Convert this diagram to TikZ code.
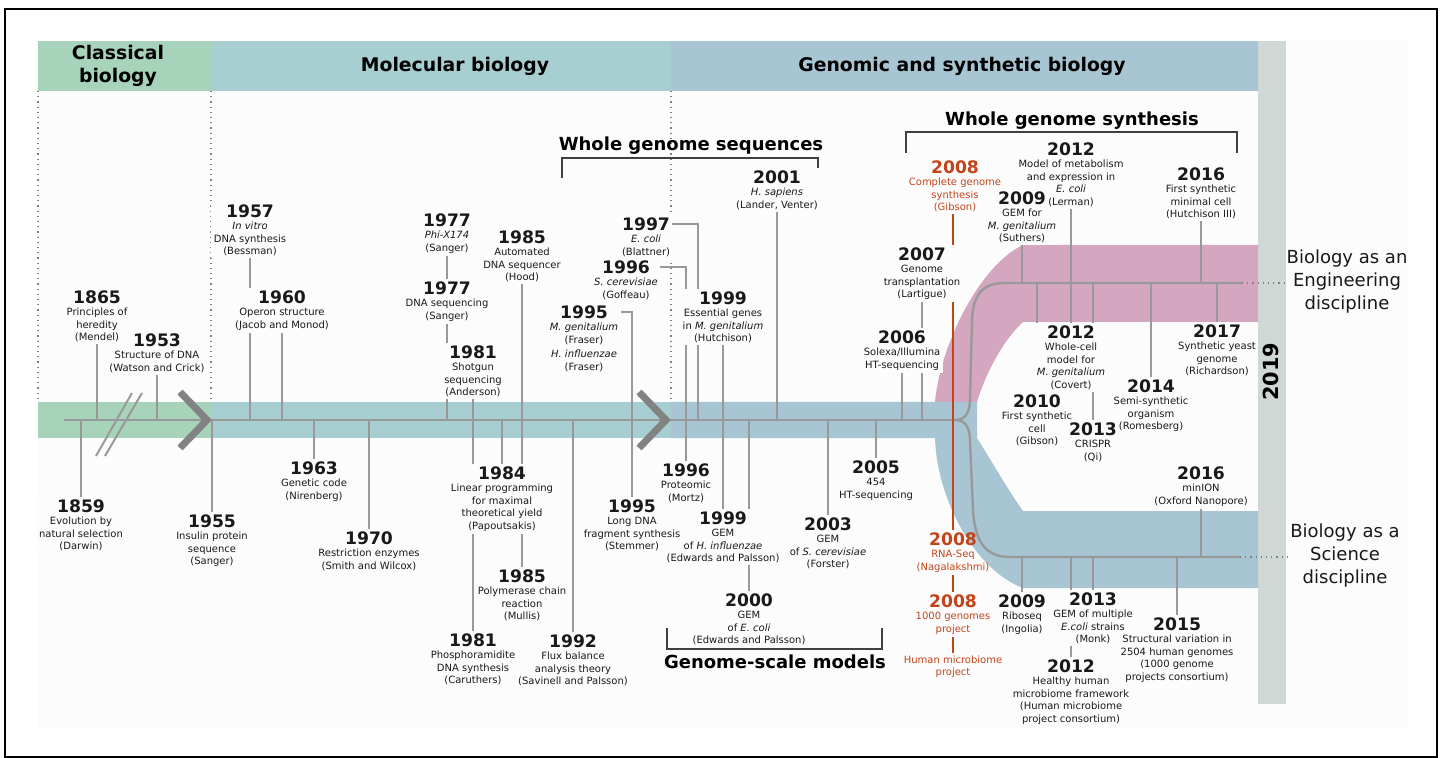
\documentclass[tikz,border=0pt]{standalone}
\usepackage{fontspec}
\setmainfont{DejaVu Sans}
\usepackage{xcolor}
\usepackage{tikz}
\usetikzlibrary{calc}

\pgfdeclarelayer{back}
\pgfdeclarelayer{mid}
\pgfdeclarelayer{cover}
\pgfsetlayers{back,mid,cover,main}

\definecolor{bgc}{RGB}{252,252,252}
\definecolor{clsc}{RGB}{167,211,186}
\definecolor{molc}{RGB}{167,206,209}
\definecolor{genc}{RGB}{167,197,211}
\definecolor{engc}{RGB}{212,166,192}
\definecolor{nowc}{RGB}{208,216,214}
\definecolor{tickc}{RGB}{153,153,153}
\definecolor{chevc}{RGB}{130,130,130}
\definecolor{redc}{RGB}{196,68,26}
\definecolor{txtc}{RGB}{25,25,25}

\newcommand{\yr}[1]{{\fontsize{8.6}{9}\selectfont\bfseries #1}}

\begin{document}
\begin{tikzpicture}[x=0.5pt,y=-0.5pt,
  ev/.style={anchor=north,align=center,font=\fontsize{5}{6.25}\selectfont,text=txtc,inner sep=1pt},
  redev/.style={ev,text=redc},
  tick/.style={draw=tickc,line width=1pt},
  redln/.style={draw=redc,line width=1pt},
  tline/.style={draw=tickc,line width=1.2pt},
  chev/.style={draw=chevc,line width=3.5pt},
  dotln/.style={draw=gray,dotted,line width=0.6pt},
  brkt/.style={draw=black!75,line width=0.75pt},
  sectitle/.style={font=\fontsize{9}{11}\selectfont\bfseries},
  head/.style={align=center,font=\fontsize{9.4}{11.5}\selectfont\bfseries},
  fate/.style={align=center,font=\fontsize{9}{11.5}\selectfont,text=txtc,inner sep=1pt}]

\useasboundingbox (0,0) rectangle (1443,758);
\draw[black,line width=0.7pt] (5,9) rectangle (1437,757);

% Period headers
\node[head] (hcls) at (118,66) {Classical\\biology};
\node[head] (hmol) at (455,66) {Molecular biology};
\node[head] (hgen) at (962,66) {Genomic and synthetic biology};
\node[font=\fontsize{10.4}{12}\selectfont\bfseries,rotate=90] (now) at (1271,372) {2019};

% Section titles
\node[sectitle] (wgseq) at (691,146) {Whole genome sequences};
\node[sectitle] (wgsyn) at (1072,121) {Whole genome synthesis};
\node[sectitle] (gsm) at (775,662) {Genome-scale models};

% Events above the timeline
\node[ev] (e1865) at (97,288) {\yr{1865}\\Principles of\\heredity\\(Mendel)};
\node[ev] (e1953) at (157,331) {\yr{1953}\\Structure of DNA\\(Watson and Crick)};
\node[ev] (e1957) at (250,202) {\yr{1957}\\\textit{In vitro}\\DNA synthesis\\(Bessman)};
\node[ev] (e1960) at (282,288) {\yr{1960}\\Operon structure\\(Jacob and Monod)};
\node[ev] (e1977a) at (447,211) {\yr{1977}\\\textit{Phi-X174}\\(Sanger)};
\node[ev] (e1977b) at (447,279) {\yr{1977}\\DNA sequencing\\(Sanger)};
\node[ev] (e1981a) at (473,343) {\yr{1981}\\Shotgun\\sequencing\\(Anderson)};
\node[ev] (e1985a) at (522,228) {\yr{1985}\\Automated\\DNA sequencer\\(Hood)};
\node[ev] (e1995a) at (584,303) {\yr{1995}\\\textit{M. genitalium}\\(Fraser)\\[1pt]\textit{H. influenzae}\\(Fraser)};
\node[ev] (e1996a) at (626,258) {\yr{1996}\\\textit{S. cerevisiae}\\(Goffeau)};
\node[ev] (e1997) at (646,215) {\yr{1997}\\\textit{E. coli}\\(Blattner)};
\node[ev] (e1999a) at (723,289) {\yr{1999}\\Essential genes\\in \textit{M. genitalium}\\(Hutchison)};
\node[ev] (e2001) at (777,168) {\yr{2001}\\\textit{H. sapiens}\\(Lander, Venter)};
\node[ev] (e2006) at (902,328) {\yr{2006}\\Solexa/Illumina\\HT-sequencing};
\node[ev] (e2007) at (922,245) {\yr{2007}\\Genome\\transplantation\\(Lartigue)};

% Events below the timeline
\node[ev] (e1859) at (81,497) {\yr{1859}\\Evolution by\\natural selection\\(Darwin)};
\node[ev] (e1955) at (212,512) {\yr{1955}\\Insulin protein\\sequence\\(Sanger)};
\node[ev] (e1963) at (314,459) {\yr{1963}\\Genetic code\\(Nirenberg)};
\node[ev] (e1970) at (369,529) {\yr{1970}\\Restriction enzymes\\(Smith and Wilcox)};
\node[ev] (e1984) at (502,464) {\yr{1984}\\Linear programming\\for maximal\\theoretical yield\\(Papoutsakis)};
\node[ev] (e1985b) at (522,567) {\yr{1985}\\Polymerase chain\\reaction\\(Mullis)};
\node[ev] (e1981b) at (473,631) {\yr{1981}\\Phosphoramidite\\DNA synthesis\\(Caruthers)};
\node[ev] (e1992) at (573,632) {\yr{1992}\\Flux balance\\analysis theory\\(Savinell and Palsson)};
\node[ev] (e1995b) at (632,497) {\yr{1995}\\Long DNA\\fragment synthesis\\(Stemmer)};
\node[ev] (e1996b) at (686,461) {\yr{1996}\\Proteomic\\(Mortz)};
\node[ev] (e1999b) at (723,509) {\yr{1999}\\GEM\\of \textit{H. influenzae}\\(Edwards and Palsson)};
\node[ev] (e2000) at (749,591) {\yr{2000}\\GEM\\of \textit{E. coli}\\(Edwards and Palsson)};
\node[ev] (e2003) at (828,515) {\yr{2003}\\GEM\\of \textit{S. cerevisiae}\\(Forster)};
\node[ev] (e2005) at (876,458) {\yr{2005}\\454\\HT-sequencing};

% Red milestones of 2008
\node[redev] (e2008a) at (955,158) {\yr{2008}\\Complete genome\\synthesis\\(Gibson)};
\node[redev] (e2008b) at (953,530) {\yr{2008}\\RNA-Seq\\(Nagalakshmi)};
\node[redev] (e2008c) at (953,592) {\yr{2008}\\1000 genomes\\project};
\node[redev] (e2008d) at (953,653) {Human microbiome\\project};

% Engineering branch
\node[ev] (e2009a) at (1022,189) {\yr{2009}\\GEM for\\\textit{M. genitalium}\\(Suthers)};
\node[ev] (e2012a) at (1071,140) {\yr{2012}\\Model of metabolism\\and expression in\\\textit{E. coli}\\(Lerman)};
\node[ev] (e2016a) at (1201,165) {\yr{2016}\\First synthetic\\minimal cell\\(Hutchison III)};
\node[ev] (e2012b) at (1071,323) {\yr{2012}\\Whole-cell\\model for\\\textit{M. genitalium}\\(Covert)};
\node[ev] (e2010) at (1037,392) {\yr{2010}\\First synthetic\\cell\\(Gibson)};
\node[ev] (e2013a) at (1093,420) {\yr{2013}\\CRISPR\\(Qi)};
\node[ev] (e2014) at (1151,377) {\yr{2014}\\Semi-synthetic\\organism\\(Romesberg)};
\node[ev] (e2017) at (1217,322) {\yr{2017}\\Synthetic yeast\\genome\\(Richardson)};

% Science branch
\node[ev] (e2016b) at (1201,464) {\yr{2016}\\minION\\(Oxford Nanopore)};
\node[ev] (e2009b) at (1022,592) {\yr{2009}\\Riboseq\\(Ingolia)};
\node[ev] (e2013b) at (1093,590) {\yr{2013}\\GEM of multiple\\\textit{E.coli} strains\\(Monk)};
\node[ev] (e2012c) at (1071,657) {\yr{2012}\\Healthy human\\microbiome framework\\(Human microbiome\\project consortium)};
\node[ev] (e2015) at (1177,615) {\yr{2015}\\Structural variation in\\2504 human genomes\\(1000 genome\\projects consortium)};

% Outcomes
\node[fate] (eng) at (1347,282) {Biology as an\\Engineering\\discipline};
\node[fate] (sci) at (1345,556) {Biology as a\\Science\\discipline};

% Timeline points
\coordinate (tl) at (64,420);
\coordinate (sp) at (955,420);
\coordinate (ul) at (1005,283);
\coordinate (ue) at (1242,283);
\coordinate (ll) at (1010,557);
\coordinate (le) at (1240,557);
\coordinate (k1997) at (698,420);

% Background bands
\begin{pgfonlayer}{back}
\fill[bgc] (38,41) rectangle (1408,728);
\fill[clsc] (38,41) rectangle (211,91);
\fill[molc] (211,41) rectangle (671,91);
\fill[genc] (671,41) rectangle (1258,91);
\fill[nowc] (1258,41) rectangle (1286,704);
\fill[clsc] (38,402) rectangle (211,438);
\fill[molc] (211,402) rectangle (671,438);
\fill[engc] (935,402) .. controls (940,345) and (980,265) .. (1023,245) -- (1258,245) -- (1258,322) -- (1023,322) .. controls (1003,340) and (985,375) .. (977,402) -- cycle;
\fill[genc] (671,402) -- (977,402) -- (977,438) .. controls (992,462) and (1008,490) .. (1023,511) -- (1258,511) -- (1258,588) -- (1023,588) .. controls (975,570) and (937,500) .. (935,438) -- (671,438) -- cycle;
\draw[dotln] (38,91) -- (38,402);
\draw[dotln] (211,91) -- (211,402);
\draw[dotln] (671,91) -- (671,402);
\end{pgfonlayer}

\begin{pgfonlayer}{mid}
% Main line and the split
\draw[tline] (tl) -- (sp);
\draw[tline] (sp) .. controls (966,420) and (970,412) .. (970,398) -- (972,320) .. controls (973,292) and (985,283) .. (ul) -- (ue);
\draw[tline] (sp) .. controls (966,420) and (970,428) .. (970,442) -- (973,510) .. controls (975,545) and (988,557) .. (ll) -- (le);
\draw[dotln] (ue) -- (eng.west |- ue);
\draw[dotln] (le) -- (sci.west |- le);
% Time break and era chevrons
\draw[tick] (96,456) -- (132,393);
\draw[tick] (105,456) -- (142,393);
\draw[chev] (180,392) -- (207,420) -- (180,448);
\draw[chev] (639,392) -- (666,420) -- (639,448);
% Ticks above
\draw[tick] (e1865.south) -- (e1865 |- tl);
\draw[tick] (e1953.south) -- (e1953 |- tl);
\draw[tick] (e1957.south) -- (e1957 |- tl);
\draw[tick] (e1960.south) -- (e1960 |- tl);
\draw[tick] (e1977a.south) -- (e1977a |- tl);
\draw[tick] (e1977b.south) -- (e1977b |- tl);
\draw[tick] (e1981a.south) -- (e1981a |- tl);
\draw[tick] (e1985a.south) -- (e1985a |- tl);
\draw[tick] ([yshift=-4.5pt]e1995a.north east) -| (e1995b |- tl);
\draw[tick] ([yshift=-4.5pt]e1996a.north east) -| (e1996b |- tl);
\draw[tick] ([yshift=-4.5pt]e1997.north east) -| (k1997);
\draw[tick] (e1999a.south) -- (e1999a |- tl);
\draw[tick] (e2001.south) -- (e2001 |- tl);
\draw[tick] (e2006.south) -- (e2006 |- tl);
\draw[tick] (e2007.south) -- (e2007 |- tl);
% Ticks below
\draw[tick] (e1859.north) -- (e1859 |- tl);
\draw[tick] (e1955.north) -- (e1955 |- tl);
\draw[tick] (e1963.north) -- (e1963 |- tl);
\draw[tick] (e1970.north) -- (e1970 |- tl);
\draw[tick] (e1984.north) -- (e1984 |- tl);
\draw[tick] (e1985b.north) -- (e1985b |- tl);
\draw[tick] (e1981b.north) -- (e1981b |- tl);
\draw[tick] (e1992.north) -- (e1992 |- tl);
\draw[tick] (e1995b.north) -- (e1995b |- tl);
\draw[tick] (e1996b.north) -- (e1996b |- tl);
\draw[tick] (e1999b.north) -- (e1999b |- tl);
\draw[tick] (e2000.north) -- (e2000 |- tl);
\draw[tick] (e2003.north) -- (e2003 |- tl);
\draw[tick] (e2005.north) -- (e2005 |- tl);
% Ticks on the engineering branch
\draw[tick] (e2009a.south) -- (e2009a |- ul);
\draw[tick] (e2012a.south) -- (e2012a |- ul);
\draw[tick] (e2016a.south) -- (e2016a |- ul);
\draw[tick] (e2012b.north) -- (e2012b |- ul);
\draw[tick] (e2010.north) -- (e2010 |- ul);
\draw[tick] (e2013a.north) -- (e2013a |- ul);
\draw[tick] (e2014.north) -- (e2014 |- ul);
\draw[tick] (e2017.north) -- (e2017 |- ul);
% Ticks on the science branch
\draw[tick] (e2016b.south) -- (e2016b |- ll);
\draw[tick] (e2009b.north) -- (e2009b |- ll);
\draw[tick] (e2013b.north) -- (e2013b |- ll);
\draw[tick] (e2012c.north) -- (e2012c |- ll);
\draw[tick] (e2015.north) -- (e2015 |- ll);
% Red chain
\draw[redln] (e2008a.south -| e2008b) -- (e2008b.north);
\draw[redln] (e2008b.south) -- (e2008c.north);
\draw[redln] (e2008c.south) -- (e2008d.north);
% Brackets
\draw[brkt] (562,178) -- (562,158) -- (818,158) -- (818,178);
\draw[brkt] (906,153) -- (906,132) -- (1237,132) -- (1237,153);
\draw[brkt] (667,628) -- (667,649) -- (882,649) -- (882,628);
\end{pgfonlayer}

% Label backgrounds hide the lines running behind them
\begin{pgfonlayer}{cover}
\foreach \e in {e1865,e1953,e1957,e1960,e1977a,e1977b,e1981a,e1985a,e1995a,e1996a,e1997,e1999a,e2001,e2006,e2007,
  e1859,e1955,e1963,e1970,e1984,e1985b,e1981b,e1992,e1995b,e1996b,e1999b,e2000,e2003,e2005,
  e2009a,e2012a,e2016a,e2012b,e2010,e2013a,e2014,e2017,e2016b,e2009b,e2013b,e2012c,e2015}
  \fill[bgc] (\e.south west) rectangle (\e.north east);
\end{pgfonlayer}
\end{tikzpicture}
\end{document}
